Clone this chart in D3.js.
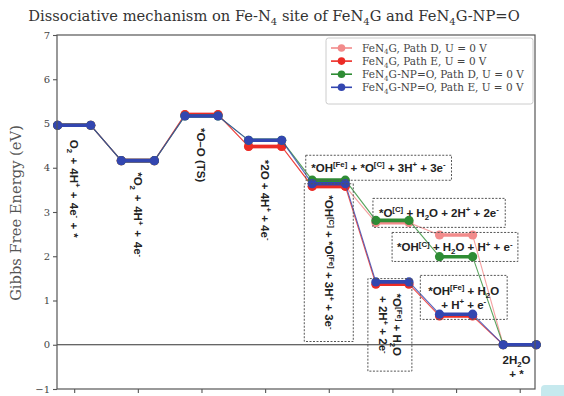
<!DOCTYPE html>
<html>
<head>
<meta charset="utf-8">
<script src="https://cdn.jsdelivr.net/npm/d3@7"></script>
<style>
  html, body { margin: 0; padding: 0; background: #fff; }
  svg { display: block; }
</style>
</head>
<body>
<svg id="chart" width="564" height="396"></svg>
<script>
// Reaction steps along the dissociative ORR pathway (x positions are step indices)
const steps = [0, 1, 2, 3, 4, 5, 6, 7];

// Free energies (eV) at each step, one array per series
const fen4gPathD = [4.96, 4.16, 5.20, 4.48, 3.58, 2.76, 2.48, 0.00];
const fen4gPathE = [4.96, 4.16, 5.20, 4.48, 3.58, 1.37, 0.65, 0.00];
const npoPathD   = [4.96, 4.16, 5.17, 4.62, 3.72, 2.81, 1.99, 0.00];
const npoPathE   = [4.96, 4.16, 5.17, 4.62, 3.64, 1.42, 0.69, 0.00];

const seriesNames = [
  "FeN_{4}G, Path D, U = 0 V",
  "FeN_{4}G, Path E, U = 0 V",
  "FeN_{4}G-NP=O, Path D, U = 0 V",
  "FeN_{4}G-NP=O, Path E, U = 0 V"
];
const seriesColors = ["#f28b8b", "#ec2b25", "#2e8c34", "#3346b0"];
const seriesValues = [fen4gPathD, fen4gPathE, npoPathD, npoPathE];

const yTicks = [-1, 0, 1, 2, 3, 4, 5, 6, 7];

// Intermediate labels: text, anchor step, anchor energy, rotation,
// optional run length (px) and box padding [along, across]
const stepLabels = [
  { lines: ["O_{2} + 4H^{+} + 4e^{-} + *"], x: 0, y: 4.63, rot: 90, anchor: "start", len: 98 },
  { lines: ["*O_{2} + 4H^{+} + 4e^{-}"], x: 1, y: 3.90, rot: 90, anchor: "start", len: 85 },
  { lines: ["*O\u2013O (TS)"], x: 2, y: 4.90, rot: 90, anchor: "start" },
  { lines: ["*2O + 4H^{+} + 4e^{-}"], x: 3, y: 4.18, rot: 90, anchor: "start", len: 80 },
  { lines: ["*OH^{[Fe]} + *O^{[C]} + 3H^{+} + 3e^{-}"], x: 4.78, y: 4.00, rot: 0, anchor: "middle", pad: [5.5, 7] },
  { lines: ["*OH^{[C]} + *O^{[Fe]} + 3H^{+} + 3e^{-}"], x: 4.0, y: 1.86, rot: 90, anchor: "middle", pad: [11.5, 19] },
  { lines: ["*O^{[C]} + H_{2}O + 2H^{+} + 2e^{-}"], x: 5.73, y: 2.98, rot: 0, anchor: "middle", pad: [6, 9] },
  { lines: ["*OH^{[C]} + H_{2}O + H^{+} + e^{-}"], x: 5.98, y: 2.21, rot: 0, anchor: "middle", pad: [5, 9] },
  { lines: ["*O^{[Fe]} + H_{2}O", "+ 2H^{+} + 2e^{-}"], x: 4.96, y: 0.45, rot: 90, anchor: "middle", pad: [15, 9.5] },
  { lines: ["*OH^{[Fe]} + H_{2}O", "+ H^{+} + e^{-}"], x: 6.12, y: 1.07, rot: 0, anchor: "middle", pad: [8, 9.5] },
  { lines: ["2H_{2}O", "+ *"], x: 6.95, y: -0.50, rot: 0, anchor: "middle" }
];

const svg = d3.select("#chart");
const margin = { left: 57, right: 29, top: 35, bottom: 7 };
const W = 564, H = 396;
const halfWidth = 0.26;
const serif = "'DejaVu Serif', 'Liberation Serif', serif";

const x = d3.scaleLinear().domain([-0.27, 7.24]).range([margin.left, W - margin.right]);
const y = d3.scaleLinear().domain([-1, 7]).range([H - margin.bottom, margin.top]);

// split "a^{b}c_{d}" into plain / superscript / subscript runs
function parseRich(str) {
  const out = [];
  const re = /(\^\{[^}]*\}|_\{[^}]*\})/g;
  let last = 0, m;
  while ((m = re.exec(str)) !== null) {
    if (m.index > last) out.push({ t: str.slice(last, m.index), k: "n" });
    out.push({ t: m[0].slice(2, -1), k: m[0][0] === "^" ? "sup" : "sub" });
    last = re.lastIndex;
  }
  if (last < str.length) out.push({ t: str.slice(last), k: "n" });
  return out;
}
function richText(textSel, str, size) {
  textSel.selectAll("tspan").remove();
  textSel.attr("font-size", size);
  let shift = 0;
  parseRich(str).forEach(p => {
    const target = p.k === "sup" ? -size * 0.4 : p.k === "sub" ? size * 0.28 : 0;
    const ts = textSel.append("tspan").text(p.t).attr("dy", (target - shift).toFixed(2));
    if (p.k !== "n") ts.attr("font-size", (size * 0.68).toFixed(2));
    shift = target;
  });
}
// render rich text scaled so that its length equals `len`
function fitRich(textSel, str, len) {
  richText(textSel, str, 10);
  const w = textSel.node().getComputedTextLength();
  richText(textSel, str, 10 * len / w);
}

// title
const title = svg.append("text")
  .attr("x", 274).attr("y", 21)
  .attr("text-anchor", "middle")
  .attr("font-family", serif)
  .attr("fill", "#333");
fitRich(title, "Dissociative mechanism on Fe-N_{4} site of FeN_{4}G and FeN_{4}G-NP=O", 492);

// y axis label
const ylab = svg.append("text")
  .attr("transform", `translate(21,${(y(-1) + y(7)) / 2 + 1}) rotate(-90)`)
  .attr("text-anchor", "middle")
  .attr("font-family", serif)
  .attr("fill", "#555");
fitRich(ylab, "Gibbs Free Energy (eV)", 176);

// axes
const axisColor = "#555";
const yAxis = svg.append("g")
  .attr("transform", `translate(${margin.left},0)`)
  .call(d3.axisLeft(y).tickValues(yTicks).tickSize(4).tickPadding(3)
    .tickFormat(d => d < 0 ? "\u2212" + Math.abs(d) : String(d)));
yAxis.select(".domain").remove();
yAxis.selectAll("line").attr("stroke", axisColor).attr("stroke-width", 1.1);
yAxis.selectAll("text")
  .attr("font-family", serif)
  .attr("font-size", 10).attr("fill", "#444");

const xAxis = svg.append("g")
  .attr("transform", `translate(0,${H - margin.bottom})`)
  .call(d3.axisBottom(x).tickValues(steps).tickSize(4).tickFormat(""));
xAxis.select(".domain").remove();
xAxis.selectAll("line").attr("stroke", axisColor).attr("stroke-width", 1.1);

// zero reference line
svg.append("line")
  .attr("x1", x(-0.27)).attr("x2", x(7.24))
  .attr("y1", y(0)).attr("y2", y(0))
  .attr("stroke", "#333").attr("stroke-width", 1.1);

// energy profiles
const series = seriesValues.map((vals, si) => ({ name: seriesNames[si], color: seriesColors[si], vals }));
const gSeries = svg.append("g");
series.forEach(s => {
  const g = gSeries.append("g");
  const pts = [];
  s.vals.forEach((v, i) => { pts.push([i - halfWidth, v]); pts.push([i + halfWidth, v]); });
  // thin connectors between steps
  g.append("path")
    .attr("d", d3.line().x(d => x(d[0])).y(d => y(d[1]))(pts))
    .attr("fill", "none").attr("stroke", s.color).attr("stroke-width", 1.1).attr("opacity", 0.8);
  // thick step levels
  s.vals.forEach((v, i) => {
    g.append("line")
      .attr("x1", x(i - halfWidth)).attr("x2", x(i + halfWidth))
      .attr("y1", y(v)).attr("y2", y(v))
      .attr("stroke", s.color).attr("stroke-width", 3.6);
  });
  g.selectAll("circle").data(pts).join("circle")
    .attr("cx", d => x(d[0])).attr("cy", d => y(d[1]))
    .attr("r", 4.6).attr("fill", s.color);
});

// frame
svg.append("rect")
  .attr("x", x(-0.27)).attr("y", y(7))
  .attr("width", x(7.24) - x(-0.27)).attr("height", y(-1) - y(7))
  .attr("fill", "none").attr("stroke", axisColor).attr("stroke-width", 1.2);

// step labels
const labelSize = 11.5;
const lineH = 14;
stepLabels.forEach(lb => {
  const g = svg.append("g")
    .attr("transform", `translate(${x(lb.x)},${y(lb.y)}) rotate(${lb.rot})`);
  const n = lb.lines.length;
  const tg = g.append("g");
  lb.lines.forEach((ln, li) => {
    const t = tg.append("text")
      .attr("x", 0)
      .attr("y", (li - (n - 1) / 2) * lineH + labelSize * 0.36)
      .attr("text-anchor", lb.anchor)
      .attr("font-family", "'Liberation Sans', Arial, sans-serif")
      .attr("font-weight", "bold")
      .attr("fill", "#222");
    richText(t, ln, labelSize);
    if (lb.len) {
      // stretch the gaps between terms to the wanted run length
      const spaces = (ln.match(/ /g) || []).length;
      const w = t.node().getComputedTextLength();
      if (spaces > 0 && lb.len > w) t.attr("word-spacing", ((lb.len - w) / spaces).toFixed(2));
    }
  });
  if (lb.pad) {
    const bb = tg.node().getBBox();
    const w = bb.width + 2 * lb.pad[0];
    const h = n * lineH + 2 * lb.pad[1] - 3;
    g.insert("rect", ":first-child")
      .attr("x", bb.x + bb.width / 2 - w / 2)
      .attr("y", -h / 2)
      .attr("width", w).attr("height", h)
      .attr("fill", "none").attr("stroke", "#555")
      .attr("stroke-width", 1).attr("stroke-dasharray", "2,1.5");
  }
});

// legend
const lg = svg.append("g").attr("transform", "translate(326,38)");
lg.append("rect")
  .attr("width", 207).attr("height", 66).attr("rx", 2.5)
  .attr("fill", "#fff").attr("fill-opacity", 0.85)
  .attr("stroke", "#ccc").attr("stroke-width", 1);
const legendTexts = [];
series.forEach((s, i) => {
  const row = lg.append("g").attr("transform", `translate(0,${10 + i * 13.1})`);
  row.append("line").attr("x1", 5).attr("x2", 26).attr("y1", 0).attr("y2", 0)
    .attr("stroke", s.color).attr("stroke-width", 1.6);
  row.append("circle").attr("cx", 15.5).attr("cy", 0).attr("r", 3.8).attr("fill", s.color);
  const t = row.append("text").attr("x", 36).attr("y", 3.5)
    .attr("font-family", serif).attr("fill", "#444");
  richText(t, s.name, 10);
  legendTexts.push(t);
});
// size legend text so the longest entry spans the box
{
  const longest = d3.max(legendTexts, t => t.node().getComputedTextLength());
  const fs = 10 * 162 / longest;
  legendTexts.forEach((t, i) => richText(t, series[i].name, fs));
}

// corner badge
svg.append("rect")
  .attr("x", 541).attr("y", 385).attr("width", 40).attr("height", 20).attr("rx", 4)
  .attr("fill", "#c6e9ee");
</script>
</body>
</html>
